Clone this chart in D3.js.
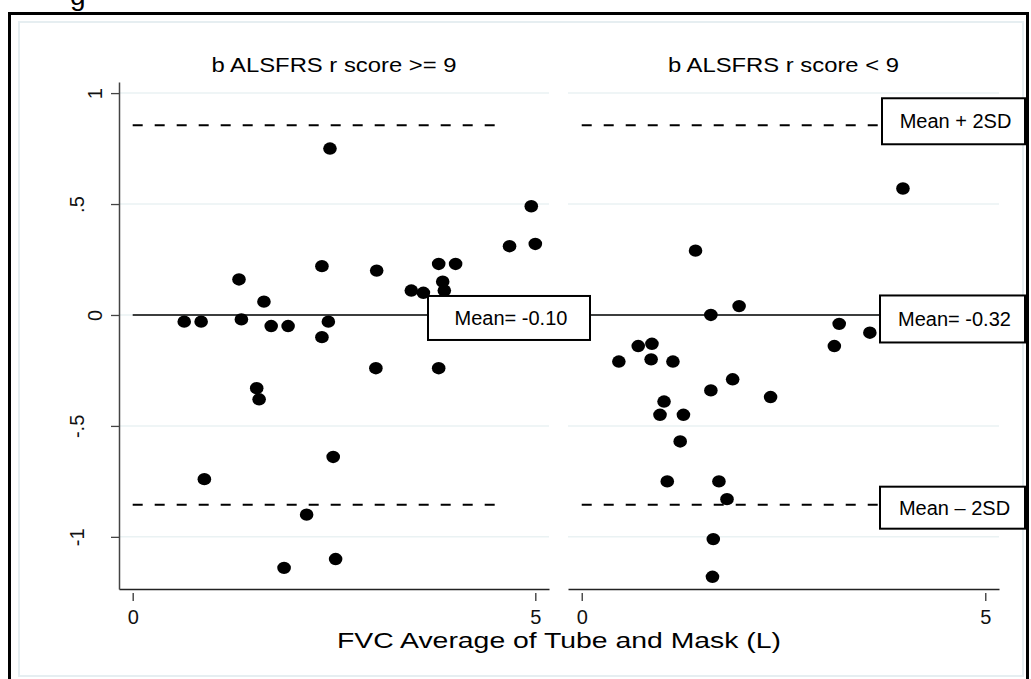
<!DOCTYPE html>
<html>
<head>
<meta charset="utf-8">
<script src="https://cdn.jsdelivr.net/npm/d3@7"></script>
<style>
    body { margin: 0; background: #fff; }
    svg text { font-family: Arial, "Liberation Sans", sans-serif; }
</style>
</head>
<body>
<div id="chart"></div>
<script>
//Datos
const panelTitles = ['b ALSFRS r score >= 9', 'b ALSFRS r score < 9'];

const fvcHigh = [0.64, 0.85, 1.32, 1.35, 1.63, 1.72, 1.93, 2.35, 2.43, 2.35, 2.45, 1.54, 1.57, 0.89, 2.49,
    2.16, 1.88, 2.52, 3.03, 3.46, 3.61, 3.80, 4.01, 3.85, 3.87, 4.68, 5.00, 4.95, 3.02, 3.80];
const diffHigh = [-0.03, -0.03, 0.16, -0.02, 0.06, -0.05, -0.05, 0.22, -0.03, -0.10, 0.75, -0.33, -0.38, -0.74, -0.64,
    -0.90, -1.14, -1.10, 0.20, 0.11, 0.10, 0.23, 0.23, 0.15, 0.11, 0.31, 0.32, 0.49, -0.24, -0.24];

const fvcLow = [1.41, 1.60, 1.95, 3.19, 3.13, 0.70, 0.87, 0.46, 0.86, 1.13, 1.87, 1.60, 2.34, 1.02, 0.97, 1.26,
    1.22, 1.06, 1.70, 1.80, 1.63, 1.62, 3.57, 3.98];
const diffLow = [0.29, 0.00, 0.04, -0.04, -0.14, -0.14, -0.13, -0.21, -0.20, -0.21, -0.29, -0.34, -0.37, -0.39, -0.45, -0.45,
    -0.57, -0.75, -0.75, -0.83, -1.01, -1.18, -0.08, 0.57];

const yTicks = [-1, -0.5, 0, 0.5, 1];
const yTickLabels = ['-1', '-.5', '0', '.5', '1'];
const xTicks = [0, 5];

const meanLine = 0, upperLine = 0.855, lowerLine = -0.855;
const boxLabels = ['Mean= -0.10', 'Mean + 2SD', 'Mean= -0.32', 'Mean \u2013 2SD'];

const xTitle = 'FVC Average of Tube and Mask (L)';

//Lienzo
const W = 1031, H = 679;
const svg = d3.select('#chart').append('svg')
    .attr('width', W)
    .attr('height', H);

svg.append('rect').attr('width', W).attr('height', H).attr('fill', '#fff');

//Texto cortado arriba (resto de un rotulo fuera del recorte)
svg.append('text')
    .attr('x', 70).attr('y', 5)
    .attr('font-size', 28)
    .text('g');

//Marcos
svg.append('rect')
    .attr('x', 9.5).attr('y', 13.5)
    .attr('width', 1018).attr('height', 700)
    .attr('fill', 'none')
    .attr('stroke', '#000')
    .attr('stroke-width', 3);

svg.append('rect')
    .attr('x', 19).attr('y', 22)
    .attr('width', 1004).attr('height', 654)
    .attr('fill', '#fff')
    .attr('stroke', '#e6eef1')
    .attr('stroke-width', 2);

//Escalas
let y = d3.scaleLinear().domain([-1.235, 1.05]).range([589, 82]);
let xL = d3.scaleLinear().domain([-0.17, 5.17]).range([119, 549]);
let xR = d3.scaleLinear().domain([-0.17, 5.17]).range([568, 999]);

const panels = [
    { x: xL, fvc: fvcHigh, diff: diffHigh, title: panelTitles[0] },
    { x: xR, fvc: fvcLow, diff: diffLow, title: panelTitles[1] }
];

const titleWidths = [245, 231];

panels.forEach(function(p, i) {
    let g = svg.append('g');
    let x0 = p.x.range()[0], x1 = p.x.range()[1];

    //Rejilla
    g.selectAll('.grid')
        .data(yTicks)
        .enter()
        .append('line')
        .attr('x1', x0).attr('x2', x1)
        .attr('y1', function(d) { return y(d); })
        .attr('y2', function(d) { return y(d); })
        .attr('stroke', '#eaf2f3')
        .attr('stroke-width', 1.5);

    //Eje X
    let ax = g.append('g')
        .attr('transform', 'translate(0,' + y.range()[0] + ')')
        .call(d3.axisBottom(p.x).tickValues(xTicks).tickSize(8).tickSizeOuter(0).tickFormat(d3.format('d')));
    ax.select('.domain').attr('stroke', '#222').attr('stroke-width', 1.5);
    ax.selectAll('.tick line').attr('stroke', '#333').attr('stroke-width', 1.3).attr('y1', 4).attr('y2', 12);
    ax.selectAll('.tick text')
        .attr('y', 35).attr('dy', null)
        .attr('font-size', 20)
        .attr('font-family', 'Arial, "Liberation Sans", sans-serif')
        .attr('fill', '#111');

    //Titulo del panel
    g.append('text')
        .attr('x', (x0 + x1) / 2)
        .attr('y', 72)
        .attr('text-anchor', 'middle')
        .attr('font-size', 21)
        .attr('textLength', titleWidths[i])
        .attr('lengthAdjust', 'spacingAndGlyphs')
        .text(p.title);

    //Puntos
    g.selectAll('.dot')
        .data(p.fvc.map(function(v, k) { return { fvc: v, diff: p.diff[k] }; }))
        .enter()
        .append('ellipse')
        .attr('cx', function(d) { return p.x(d.fvc); })
        .attr('cy', function(d) { return y(d.diff); })
        .attr('rx', 6.8)
        .attr('ry', 6.2)
        .attr('fill', '#000');
});

//Eje Y (solo en el panel izquierdo)
let ay = svg.append('g')
    .attr('transform', 'translate(' + xL.range()[0] + ',0)')
    .call(d3.axisLeft(y).tickValues(yTicks).tickSize(8).tickSizeOuter(0)
        .tickFormat(function(d) { return yTickLabels[yTicks.indexOf(d)]; }));
ay.select('.domain').attr('stroke', '#444').attr('stroke-width', 1.5);
ay.selectAll('.tick line').attr('stroke', '#444').attr('stroke-width', 1.3);
ay.selectAll('.tick text')
    .attr('x', null).attr('dy', null)
    .attr('text-anchor', 'middle')
    .attr('font-size', 20)
    .attr('font-family', 'Arial, "Liberation Sans", sans-serif')
    .attr('fill', '#111')
    .attr('transform', function(d) {
        let lab = yTickLabels[yTicks.indexOf(d)];
        let off = lab.length > 1 ? -35 : -17;
        return 'translate(' + off + ',0) rotate(-90)';
    });

//Lineas de referencia
const boxLeftR = 880;
const refs = svg.append('g');

refs.append('line')
    .attr('x1', xL(0)).attr('x2', boxLeftR)
    .attr('y1', y(meanLine)).attr('y2', y(meanLine))
    .attr('stroke', '#000').attr('stroke-width', 1.6);

[upperLine, lowerLine].forEach(function(v) {
    refs.append('line')
        .attr('x1', xL(0)).attr('x2', xL(4.5))
        .attr('y1', y(v)).attr('y2', y(v))
        .attr('stroke', '#000').attr('stroke-width', 2)
        .attr('stroke-dasharray', '10,12');
    refs.append('line')
        .attr('x1', xR(0)).attr('x2', boxLeftR)
        .attr('y1', y(v)).attr('y2', y(v))
        .attr('stroke', '#000').attr('stroke-width', 2)
        .attr('stroke-dasharray', '10,12');
});

//Cajas de texto
const boxes = [
    { label: boxLabels[0], x: 428, w: 162, yc: y(meanLine) + 3, h: 44 },
    { label: boxLabels[1], x: 882, w: 143, yc: y(upperLine) - 4, h: 46 },
    { label: boxLabels[2], x: 880, w: 145, yc: y(meanLine) + 4, h: 47 },
    { label: boxLabels[3], x: 880, w: 145, yc: y(lowerLine) + 3, h: 42 }
];

boxes.forEach(function(b) {
    refs.append('rect')
        .attr('x', b.x).attr('y', b.yc - b.h / 2)
        .attr('width', b.w).attr('height', b.h)
        .attr('fill', '#fff')
        .attr('stroke', '#000')
        .attr('stroke-width', 2);
    refs.append('text')
        .attr('x', b.x + b.w / 2 + 2)
        .attr('y', b.yc + 7)
        .attr('text-anchor', 'middle')
        .attr('font-family', 'Lato, "Open Sans", sans-serif')
        .attr('font-size', 20)
        .text(b.label);
});

//Titulo del eje X
svg.append('text')
    .attr('x', (xL.range()[0] + xR.range()[1]) / 2)
    .attr('y', 648)
    .attr('text-anchor', 'middle')
    .attr('font-size', 22)
    .attr('textLength', 444)
    .attr('lengthAdjust', 'spacingAndGlyphs')
    .text(xTitle);
</script>
</body>
</html>
